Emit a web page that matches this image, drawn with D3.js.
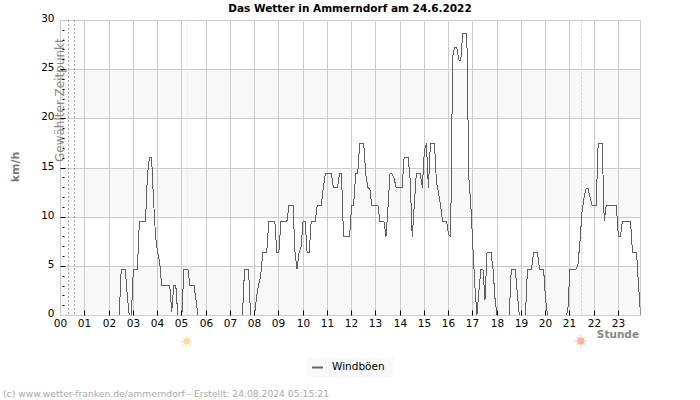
<!DOCTYPE html>
<html>
<head>
<meta charset="utf-8">
<script src="https://cdnjs.cloudflare.com/ajax/libs/d3/7.8.5/d3.min.js"></script>
<style>
body { margin: 0; background: #fff; }
text { font-family: "DejaVu Sans", sans-serif; }
</style>
</head>
<body>
<svg id="chart" width="700" height="400"></svg>
<script>
var titleText = "Das Wetter in Ammerndorf am 24.6.2022";
var footerText = "(c) www.wetter-franken.de/ammerndorf - Erstellt: 24.08.2024 05:15:21";
var hourLabels = ["00","01","02","03","04","05","06","07","08","09","10","11","12","13","14","15","16","17","18","19","20","21","22","23"];
var yTicks = [0, 5, 10, 15, 20, 25, 30];
var yMinorTicks = [1,2,3,4,6,7,8,9,11,12,13,14,16,17,18,19,21,22,23,24,26,27,28,29];
var bands = [[0, 5], [10, 15], [20, 25]];
var selectedHours = [0.33, 0.58]; //the two dotted lines at the left
var sunrise = 5.23;
var sunset = 21.48;

//Wind gusts in km/h, one row per hour, 5 minute steps
var gusts = [
  0,0,0,0,0,0,0,0,0,0,0,0,
  0,0,0,0,0,0,0,0,0,0,0,0,
  0,0,0,0,0,0,4.7,4.7,4.7,2,0,0,
  4.7,4.7,4.7,9.6,9.6,9.6,9.6,14.4,16.1,16.1,11.7,8,
  6.4,5.5,3.1,3.1,3.1,3.1,3.1,0.4,3.1,3.1,0,0,
  0,4.7,4.7,4.7,3.1,3.1,3.1,1.6,0,0,0,0,
  0,0,0,0,0,0,0,0,0,0,0,0,
  0,0,0,0,0,0,0,4.7,4.7,4.7,0,0,
  0,2,3.2,4,6.4,6.4,6.4,9.6,9.6,9.6,9.6,6.4,
  6.4,9.6,9.6,9.6,9.6,11.2,11.2,11.2,6.4,4.7,6.4,7,
  9.6,9.6,6.4,6.4,9.6,9.6,9.6,11.2,11.2,11.2,13,14.4,
  14.4,14.4,14.4,13,13,13,14.4,14.4,8,8,8,8,
  11.2,11.2,14.4,14.4,17.5,17.5,17.5,14.4,13,12.9,11.2,11.2,
  11.2,11.2,9.6,9.6,9.6,8,11,14.4,14.4,14,13,13,
  13,13,16.1,16.1,16.1,13.7,8,11.2,14.4,14.4,14.4,13,
  16.8,17.5,13,17.5,17.5,17.5,13.5,12.5,11.2,9.6,9.6,9.6,
  8.2,8,26.3,27.3,27.3,26,25.9,28.7,28.7,28.7,14,11.2,
  7,3,0,2.5,4.7,4.7,1.6,6.4,6.4,6.4,4.7,1.6,
  0,0,0,0,0,0,0,4.7,4.7,4.7,2.2,0,
  0,0,0,4.7,4.7,4.7,6.4,6.4,6.4,4.7,4.7,4.7,
  1.6,0,0,0,0,0,0,0,0,0,0,0.5,
  4.7,4.7,4.7,4.7,5.2,7.5,10.5,12,12.9,12.9,12,11.2,
  11.2,11.2,17.5,17.5,17.5,9.6,11.2,11.2,11.2,11.2,11.2,11.2,
  8,8,9.6,9.6,9.6,9.6,9.6,6.4,6.4,6.4,3,0
];

var svg = d3.select("#chart");
var left = 60.5, right = 640.5, top_ = 20.5, bottom = 315.5;
var grid = "#cccccc";

var x = d3.scaleLinear().domain([0, 23.9]).range([60.6, 640.2]);
var y = d3.scaleLinear().domain([0, 30]).range([bottom, top_]);
var hours = d3.range(hourLabels.length);

//Snap to the middle of a pixel column or row
function snap(v) { return Math.floor(v) + 0.5; }

//Background bands
svg.selectAll("rect.band").data(bands).enter().append("rect")
    .attr("class", "band")
    .attr("x", left)
    .attr("width", right - left)
    .attr("y", function(d){ return snap(y(d[1])); })
    .attr("height", function(d){ return snap(y(d[0])) - snap(y(d[1])); })
    .attr("fill", "#f8f8f8");

//Grid
svg.selectAll("line.hgrid").data(yTicks).enter().append("line")
    .attr("x1", left).attr("x2", right)
    .attr("y1", function(d){ return snap(y(d)); }).attr("y2", function(d){ return snap(y(d)); })
    .attr("stroke", grid);
svg.selectAll("line.vgrid").data(hours.concat([23.9])).enter().append("line")
    .attr("y1", top_).attr("y2", bottom)
    .attr("x1", function(d){ return snap(x(d)); })
    .attr("x2", function(d){ return snap(x(d)); })
    .attr("stroke", grid);

//Selected time, sunrise and sunset
svg.selectAll("line.sel").data(selectedHours).enter().append("line")
    .attr("y1", top_).attr("y2", bottom)
    .attr("x1", function(d){ return snap(x(d)); })
    .attr("x2", function(d){ return snap(x(d)); })
    .attr("stroke", "#555555").attr("stroke-dasharray", "1,3");
svg.append("line")
    .attr("y1", top_).attr("y2", bottom)
    .attr("x1", snap(x(sunrise))).attr("x2", snap(x(sunrise)))
    .attr("stroke", "#f5ea9a").attr("stroke-dasharray", "2,2");
svg.append("line")
    .attr("y1", top_).attr("y2", bottom)
    .attr("x1", snap(x(sunset))).attr("x2", snap(x(sunset)))
    .attr("stroke", "#f5c98a").attr("stroke-dasharray", "2,2");

svg.append("text")
    .attr("transform", "translate(64,162) rotate(-90)")
    .attr("font-size", 12)
    .attr("fill", "#888888")
    .text("Gewählter Zeitpunkt");

//Wind line
svg.append("clipPath").attr("id", "plot").append("rect")
    .attr("x", left).attr("y", top_).attr("width", right - left).attr("height", bottom - top_);
var windLine = d3.line()
    .x(function(d, i){ return x(i / 12); })
    .y(function(d){ return y(d); });
svg.append("path")
    .datum(gusts)
    .attr("clip-path", "url(#plot)")
    .attr("d", windLine)
    .attr("fill", "none")
    .attr("stroke", "#606060")
    .attr("stroke-width", 1)
    .attr("shape-rendering", "crispEdges");

//Frame bottom goes over the zero values
svg.append("line").attr("x1", left).attr("x2", right).attr("y1", bottom).attr("y2", bottom).attr("stroke", grid);

//Axes
var xAxis = d3.axisBottom(x)
    .tickValues(hours)
    .tickSize(-5)
    .tickPadding(4)
    .tickFormat(function(d){ return hourLabels[d]; });
var gx = svg.append("g").attr("transform", "translate(0," + bottom + ")").call(xAxis);
gx.select(".domain").remove();
gx.selectAll(".tick").attr("transform", function(d){ return "translate(" + snap(x(d)) + ",0)"; });
gx.selectAll("line").attr("stroke", "#000");
gx.selectAll("text").attr("font-size", 10.5).attr("fill", "#000");
gx.selectAll(".tick").filter(function(d){ return d == 0; }).select("line").remove();

var yAxis = d3.axisLeft(y)
    .tickValues(yTicks)
    .tickSize(-5)
    .tickPadding(6);
var gy = svg.append("g").attr("transform", "translate(" + left + ",0)").call(yAxis);
gy.select(".domain").remove();
gy.selectAll(".tick").attr("transform", function(d){ return "translate(0," + snap(y(d)) + ")"; });
gy.selectAll("line").attr("stroke", "#000");
gy.selectAll("text").attr("font-size", 10.5).attr("fill", "#000").attr("y", -1.5);
//no tick marks on the corners
gy.selectAll(".tick").filter(function(d){ return d == 0 || d == 30; }).select("line").remove();

var yMinor = d3.axisLeft(y).tickValues(yMinorTicks).tickSize(-2).tickFormat("");
var gm = svg.append("g").attr("transform", "translate(" + (left + 2) + ",0)").call(yMinor);
gm.select(".domain").remove();
gm.selectAll(".tick").attr("transform", function(d){ return "translate(0," + snap(y(d)) + ")"; });
gm.selectAll("line").attr("stroke", "#000");

//Texts
svg.append("text")
    .attr("x", 350).attr("y", 12)
    .attr("text-anchor", "middle")
    .attr("font-size", 10.5).attr("font-weight", "bold")
    .text(titleText);
svg.append("text")
    .attr("transform", "translate(19,167) rotate(-90)")
    .attr("text-anchor", "middle")
    .attr("font-size", 11).attr("font-weight", "bold").attr("fill", "#777777")
    .text("km/h");
svg.append("text")
    .attr("x", 639).attr("y", 338)
    .attr("text-anchor", "end")
    .attr("font-size", 10.5).attr("font-weight", "bold").attr("fill", "#888888")
    .text("Stunde");
svg.append("text")
    .attr("x", 3).attr("y", 397)
    .attr("font-size", 9.2).attr("fill", "#aaaaaa")
    .text(footerText);

//Sun symbols
function drawSun(cx, cy, color, r) {
    var rays = d3.range(0, 360, 45);
    svg.append("g").selectAll("line").data(rays).enter().append("line")
        .attr("x1", cx).attr("y1", cy)
        .attr("x2", function(d){ return cx + (r + 2.5) * Math.cos(d * Math.PI / 180); })
        .attr("y2", function(d){ return cy + (r + 2.5) * Math.sin(d * Math.PI / 180); })
        .attr("stroke", color).attr("stroke-opacity", 0.8);
    svg.append("circle").attr("cx", cx).attr("cy", cy).attr("r", r).attr("fill", color);
}
drawSun(186.7, 341.3, "#fddf90", 3.3);
drawSun(580.8, 341, "#ffb4a0", 3.6);

//Legend
svg.append("rect").attr("x", 307).attr("y", 358).attr("width", 87).attr("height", 19).attr("fill", "#f8f8f8");
svg.append("line").attr("x1", 312).attr("x2", 323).attr("y1", 367.5).attr("y2", 367.5)
    .attr("stroke", "#666666").attr("stroke-width", 2);
svg.append("text").attr("x", 332).attr("y", 370).attr("font-size", 10.5).text("Windböen");
</script>
</body>
</html>
